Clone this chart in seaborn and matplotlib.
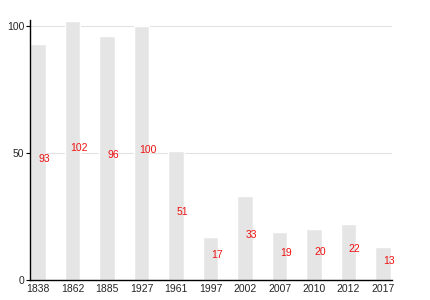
import matplotlib
matplotlib.use("Agg")
import matplotlib.pyplot as plt
import seaborn as sns
import pandas as pd

years = ["1838", "1862", "1885", "1927", "1961", "1997", "2002", "2007", "2010", "2012", "2017"]
values = [93, 102, 96, 100, 51, 17, 33, 19, 20, 22, 13]

df = pd.DataFrame({"year": years, "value": values})

sns.set_style("white")
plt.rcParams['font.family'] = ['Liberation Sans', 'DejaVu Sans']

fig = plt.figure(figsize=(4.3, 3.0), dpi=100)
ax = fig.add_axes([30/430, 20/300, 362/430, 260/300])

sns.barplot(data=df, x="year", y="value", color="#e5e5e5", saturation=1,
            width=0.46, ax=ax, zorder=2)

for i, v in enumerate(values):
    ax.text(i + 0.18, v / 2, str(v), color="#ee1111", fontsize=7.5,
            ha="center", va="baseline", zorder=3)

ax.set_ylim(0, 102.5)
ax.set_xlim(-0.23, 10.26)
ax.set_yticks([0, 50, 100])
ax.yaxis.grid(True, color="#e2e2e2", linewidth=0.8, zorder=0)
ax.set_axisbelow(True)
ax.set_xlabel("")
ax.set_ylabel("")
for s in ["top", "right"]:
    ax.spines[s].set_visible(False)
for s in ["left", "bottom"]:
    ax.spines[s].set_color("black")
    ax.spines[s].set_linewidth(1.0)
ax.tick_params(axis="y", length=3, width=0.8, color="black", labelsize=7.5, pad=1, left=True)
ax.tick_params(axis="x", length=0, labelsize=7.5, pad=3)

fig.savefig("out.png", dpi=100)
